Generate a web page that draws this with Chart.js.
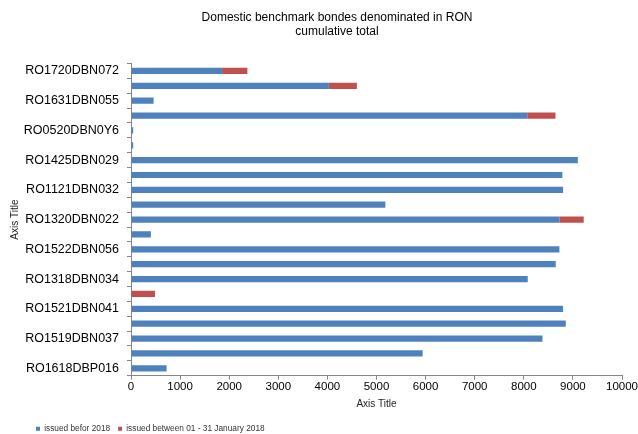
<!DOCTYPE html>
<html>
<head>
<meta charset="utf-8">
<script src="https://cdn.jsdelivr.net/npm/chart.js@4"></script>
<style>
  html, body { margin: 0; padding: 0; background: #fff; }
  #wrap { width: 638px; height: 434px; }
</style>
</head>
<body>
<div id="wrap"><canvas id="myChart" width="638" height="434"></canvas></div>
<script>
// bond codes, top to bottom (only every other one is shown on the axis)
let bonds = [
  "RO1720DBN072", "RO1827DBN011", "RO1631DBN055", "RO1722DBN036",
  "RO0520DBN0Y6", "RO0719DBN0Y8", "RO1425DBN029", "RO1623DBN018",
  "RO1121DBN032", "RO1724DBN046", "RO1320DBN022", "RO1428DBN033",
  "RO1522DBN056", "RO1624DBN027", "RO1318DBN034", "RO1921DBN050",
  "RO1521DBN041", "RO1219DBN026", "RO1519DBN037", "RO1717DBN024",
  "RO1618DBP016"
];
let issuedBefore2018 = [
  1855, 4030, 460, 8070,
  45, 45, 9100, 8785,
  8800, 5180, 8725, 405,
  8725, 8650, 8080, 0,
  8800, 8855, 8380, 5940,
  725
];
let issuedJan2018 = [
  515, 570, 0, 575,
  0, 0, 0, 0,
  0, 0, 495, 0,
  0, 0, 0, 490,
  0, 0, 0, 0,
  0
];
let xTicks = [0, 1000, 2000, 3000, 4000, 5000, 6000, 7000, 8000, 9000, 10000];

let font = "'Liberation Sans', Arial, sans-serif";
let axisGrey = "#868686";

// move the legend to the lower left and the title a bit right, as in the original
let boxShift = {
  id: "boxShift",
  afterLayout(chart) {
    let l = chart.legend;
    l.left += 28; l.right += 28;
    l.top += 9; l.bottom += 9;
    let t = chart.titleBlock;
    t.left += 18; t.right += 18;
  }
};

let ctx = document.getElementById("myChart").getContext("2d");
let myChart = new Chart(ctx, {
  type: "bar",
  data: {
    labels: bonds,
    datasets: [
      {
        label: "issued befor 2018",
        data: issuedBefore2018,
        backgroundColor: "#4F81BD",
        categoryPercentage: 1,
        barPercentage: 0.42
      },
      {
        label: "issued between 01 - 31 January 2018",
        data: issuedJan2018,
        backgroundColor: "#C0504D",
        categoryPercentage: 1,
        barPercentage: 0.42
      }
    ]
  },
  options: {
    indexAxis: "y",
    responsive: false,
    animation: false,
    layout: { padding: { left: 0, right: 0, top: 0, bottom: 0 } },
    plugins: {
      title: {
        display: true,
        text: ["Domestic benchmark bondes denominated in RON", "cumulative total"],
        color: "#000",
        font: { family: font, size: 12, weight: "normal", lineHeight: 1.15 },
        padding: { top: 10.5, bottom: 25.4 }
      },
      legend: {
        display: true,
        position: "bottom",
        align: "start",
        labels: {
          boxWidth: 4,
          boxHeight: 4,
          padding: 8,
          color: "#333",
          font: { family: font, size: 8.3 }
        }
      },
      tooltip: { enabled: false }
    },
    scales: {
      x: {
        stacked: true,
        min: 0,
        max: 10000,
        afterBuildTicks: (scale) => { scale.ticks = xTicks.map((v) => ({ value: v })); },
        afterFit: (scale) => { scale.height = 32; },
        ticks: {
          color: "#000",
          padding: 0,
          maxRotation: 0,
          font: { family: font, size: 11.5 },
          callback: (value) => String(value)
        },
        grid: { display: true, drawOnChartArea: false, drawTicks: true, tickLength: 4, color: axisGrey },
        border: { display: true, color: axisGrey },
        title: {
          display: true,
          text: "Axis Title",
          color: "#222",
          font: { family: font, size: 10 },
          padding: { top: 0, bottom: -3 }
        }
      },
      y: {
        stacked: true,
        afterFit: (scale) => { scale.width = 131; },
        ticks: {
          autoSkip: false,
          color: "#000",
          padding: 8,
          font: { family: font, size: 12.5 },
          callback: function (value, index) {
            return index % 2 === 0 ? this.getLabelForValue(value) : "";
          }
        },
        grid: { display: true, offset: true, drawOnChartArea: false, drawTicks: true, tickLength: 4, color: axisGrey },
        border: { display: true, color: axisGrey },
        title: {
          display: true,
          text: "Axis Title",
          color: "#222",
          font: { family: font, size: 10 },
          padding: { top: 9, bottom: 0 }
        }
      }
    }
  },
  plugins: [boxShift]
});
</script>
</body>
</html>
